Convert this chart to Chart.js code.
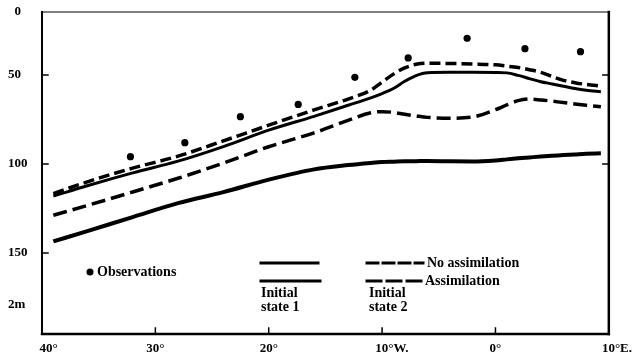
<!DOCTYPE html>
<html>
<head>
<meta charset="utf-8">
<script src="https://cdn.jsdelivr.net/npm/chart.js@4"></script>
<style>
  html, body { margin: 0; padding: 0; background: #fff; }
</style>
</head>
<body>
<canvas id="chart" width="639" height="357"></canvas>
<script>
// longitude, west negative
const lon = [-39, -36, -32, -28, -24, -20, -16, -13, -11, -10, -9, -8, -7, -6, -4, -2, 0, 1, 2, 3, 4, 5, 6, 7, 8, 9.3];

// depth values
const state1Upper = [118, 112.2, 105, 98.4, 90.2, 81, 73.2, 67, 62.8, 60.4, 57.6, 53.5, 50.3, 48.7, 48.5, 48.5, 48.6, 48.8, 50.2, 52, 53.8, 55, 56.3, 57.6, 58.6, 59.4];
const state1Lower = [143.5, 137.7, 129.8, 122, 115.8, 108.8, 103, 100.6, 99.4, 98.9, 98.7, 98.5, 98.4, 98.3, 98.5, 98.6, 98, 97.4, 96.8, 96.3, 95.8, 95.4, 95, 94.6, 94.2, 94];
const state2NoAssim = [116.6, 110, 102.3, 95.6, 87, 78.2, 69.6, 63.5, 58.5, 54, 49.5, 46, 44, 43.4, 43.5, 43.8, 44.3, 45, 45.8, 47, 48.5, 50.8, 53, 54.3, 55.3, 56.2];
const state2Assim = [128.8, 123.3, 115.7, 108, 99.5, 90.3, 82.5, 75.5, 71.2, 70.6, 71, 72.1, 73, 73.8, 74.3, 73.6, 69.5, 66.8, 64.4, 63.5, 64, 64.7, 65.5, 66.3, 67, 67.8];

const obsLon = [-32.2, -27.4, -22.5, -17.4, -12.4, -7.7, -2.5, 2.6, 7.5];
const obsDepth = [95.9, 88, 73.4, 66.5, 51.3, 40.4, 29.4, 35.2, 36.9];

const xTickValues = [-40, -30, -20, -10, 0, 10];
const xTickLabels = ['    40°', '30°', '20°', '      10°W.', '0°', '     10°E.'];
const yTickValues = [14.6, 50, 100, 150, 179];
const yTickLabels = ['  0', '50', '100', '150', '2m'];

const font = "'Liberation Serif', 'DejaVu Serif', serif";

function pts(ys) {
  return lon.map((x, i) => ({ x: x, y: ys[i] }));
}

const frame = {
  id: 'frame',
  afterDraw(chart) {
    const ctx = chart.ctx;
    const a = chart.chartArea;
    const xs = chart.scales.x, ys = chart.scales.y;
    ctx.save();
    ctx.strokeStyle = '#000';
    ctx.lineCap = 'square';
    const seg = (x1, y1, x2, y2, w) => {
      ctx.lineWidth = w;
      ctx.beginPath(); ctx.moveTo(x1, y1); ctx.lineTo(x2, y2); ctx.stroke();
    };
    seg(a.left, a.top, a.right, a.top, 1.2);
    seg(a.left, a.top, a.left, a.bottom, 2);
    seg(a.right, a.top, a.right, a.bottom, 2.5);
    seg(a.left, a.bottom, a.right, a.bottom, 2.5);
    // inward ticks
    [50, 100, 150].forEach(v => {
      const y = ys.getPixelForValue(v);
      seg(a.left, y, a.left + 6, y, 1.5);
    });
    [50, 100].forEach(v => {
      const y = ys.getPixelForValue(v);
      seg(a.right, y, a.right - 6, y, 1.5);
    });
    [-30, -20, -10, 0].forEach(v => {
      const x = xs.getPixelForValue(v);
      seg(x, a.bottom, x, a.bottom - 6, 1.5);
    });

    // legend
    ctx.fillStyle = '#000';
    ctx.font = 'bold 14px ' + font;
    ctx.textBaseline = 'middle';
    ctx.beginPath(); ctx.arc(90, 272, 3.5, 0, Math.PI * 2); ctx.fill();
    ctx.fillText('Observations', 97, 272);

    seg(261, 263, 318, 263, 3);
    seg(261, 281, 320, 281, 3);
    ctx.fillText('Initial', 261, 293);
    ctx.fillText('state 1', 261, 307);

    ctx.setLineDash([11, 5]);
    seg(367, 263, 423, 263, 3);
    ctx.setLineDash([14, 6]);
    seg(367, 281, 421, 281, 3);
    ctx.setLineDash([]);
    ctx.fillText('No assimilation', 427, 263);
    ctx.fillText('Assimilation', 425, 281);
    ctx.fillText('Initial', 369, 293);
    ctx.fillText('state 2', 369, 307);
    ctx.restore();
  }
};

const lineBase = {
  borderColor: '#000',
  pointRadius: 0,
  fill: false,
  cubicInterpolationMode: 'monotone',
  borderCapStyle: 'butt'
};

new Chart(document.getElementById('chart'), {
  type: 'line',
  data: {
    datasets: [
      Object.assign({ label: 'Initial state 1, no assimilation', data: pts(state1Upper), borderWidth: 3 }, lineBase),
      Object.assign({ label: 'Initial state 1, assimilation', data: pts(state1Lower), borderWidth: 4 }, lineBase),
      Object.assign({ label: 'Initial state 2, no assimilation', data: pts(state2NoAssim), borderWidth: 3.5, borderDash: [11, 5] }, lineBase),
      Object.assign({ label: 'Initial state 2, assimilation', data: pts(state2Assim), borderWidth: 3.5, borderDash: [14, 6] }, lineBase),
      {
        label: 'Observations',
        type: 'scatter',
        data: obsLon.map((x, i) => ({ x: x, y: obsDepth[i] })),
        pointRadius: 3.6,
        pointBackgroundColor: '#000',
        pointBorderWidth: 0,
        showLine: false
      }
    ]
  },
  options: {
    responsive: false,
    animation: false,
    devicePixelRatio: 1,
    layout: { padding: { left: 8, right: 28, top: 12, bottom: 0 } },
    plugins: { legend: { display: false }, tooltip: { enabled: false } },
    scales: {
      x: {
        type: 'linear',
        min: -40,
        max: 10,
        afterBuildTicks: s => { s.ticks = xTickValues.map(v => ({ value: v })); },
        afterFit: s => { s.height = 23; },
        grid: { display: false, drawTicks: false },
        border: { display: false },
        ticks: {
          callback: (v, i) => xTickLabels[i],
          color: '#000',
          font: { family: font, size: 13, weight: 'bold' },
          padding: 7,
          maxRotation: 0,
          autoSkip: false
        }
      },
      y: {
        type: 'linear',
        reverse: true,
        min: 14.6,
        max: 195.5,
        afterBuildTicks: s => { s.ticks = yTickValues.map(v => ({ value: v })); },
        afterFit: s => { s.width = 34; },
        grid: { display: false, drawTicks: false },
        border: { display: false },
        ticks: {
          callback: (v, i) => yTickLabels[i],
          color: '#000',
          crossAlign: 'far',
          font: { family: font, size: 13, weight: 'bold' },
          autoSkip: false
        }
      }
    }
  },
  plugins: [frame]
});
</script>
</body>
</html>
